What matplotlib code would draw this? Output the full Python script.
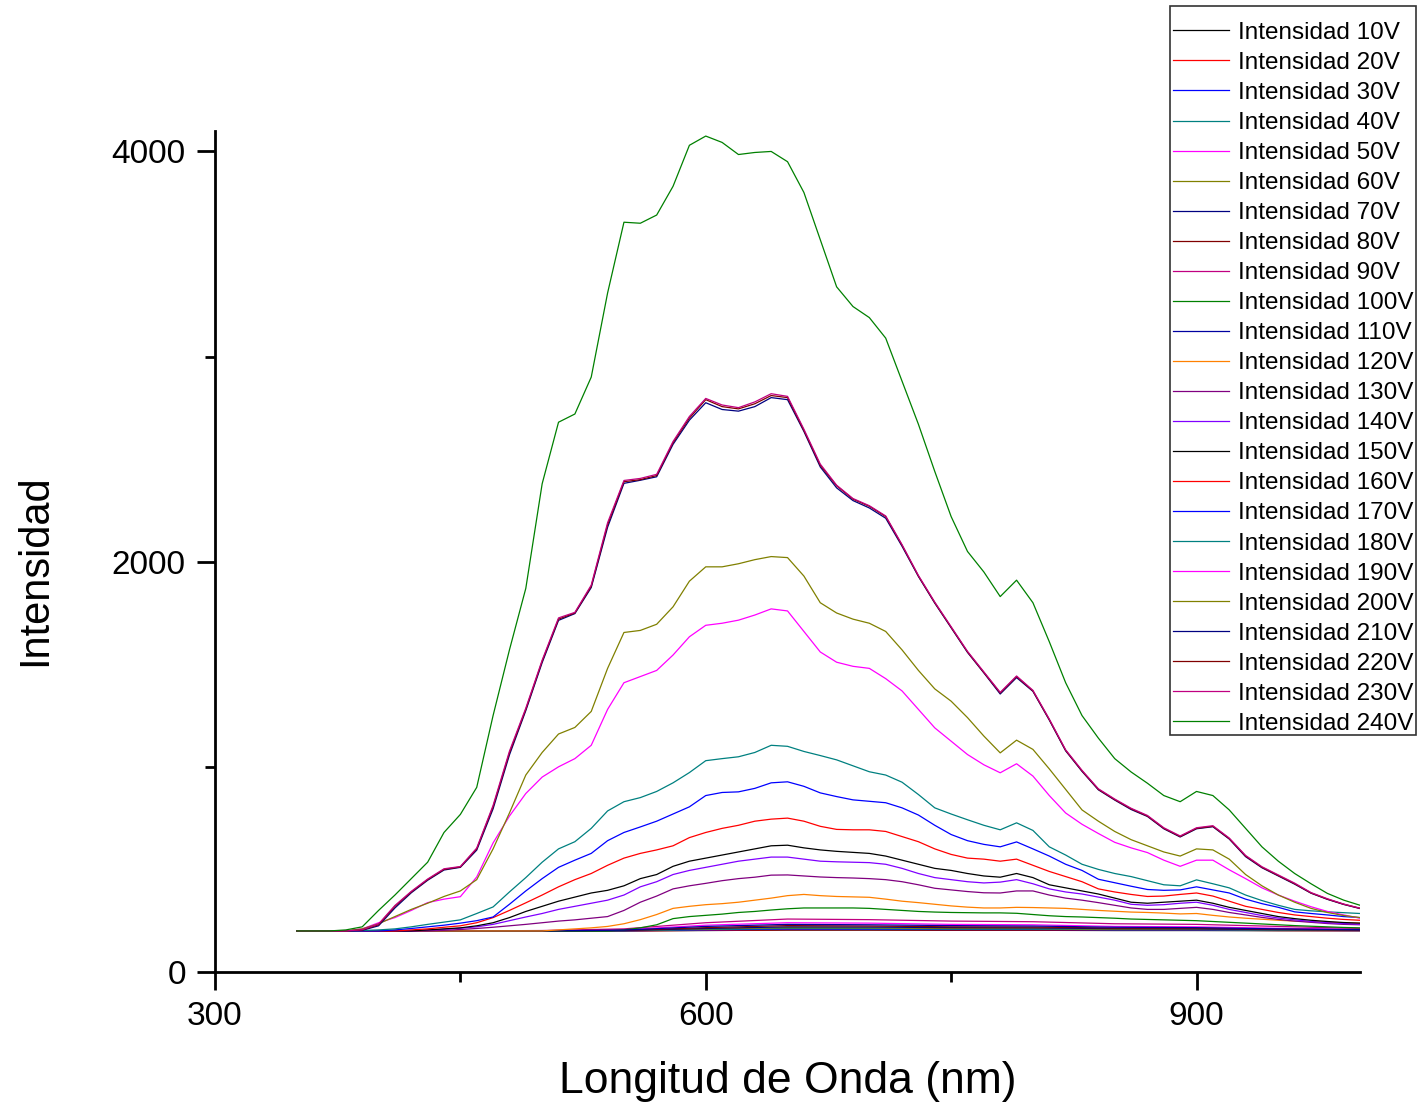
import matplotlib
matplotlib.use("Agg")
import matplotlib.pyplot as plt

plt.rcParams["font.family"] = ["Liberation Sans", "DejaVu Sans"]

# wavelength grids (nm)
wl = list(range(350, 1001, 10))
wl_low = [350, 400, 450, 500, 550, 600, 650, 700, 750, 800, 850, 900, 950, 1000]

# low-voltage spectra, read coarsely (nearly flat near the 200 baseline)
i10 = [200, 200, 200, 200, 200, 202, 204, 204, 203, 203, 202, 202, 201, 201]
i20 = [200, 200, 200, 200, 200, 203, 206, 206, 205, 205, 204, 204, 202, 201]
i30 = [200, 200, 200, 200, 201, 205, 209, 208, 207, 207, 205, 205, 203, 202]
i40 = [200, 200, 200, 200, 201, 207, 212, 211, 209, 209, 206, 206, 204, 202]
i50 = [200, 200, 200, 201, 206, 228, 240, 238, 232, 230, 222, 220, 213, 208]
i60 = [200, 200, 200, 200, 202, 210, 216, 215, 212, 212, 208, 208, 205, 203]
i70 = [200, 200, 200, 200, 202, 212, 220, 219, 216, 215, 211, 210, 206, 204]
i80 = [200, 200, 200, 200, 203, 216, 226, 224, 220, 219, 214, 213, 208, 205]
i90 = [200, 200, 200, 202, 210, 240, 258, 255, 248, 245, 235, 232, 222, 212]
i110 = [200, 200, 200, 200, 204, 222, 232, 230, 226, 224, 218, 216, 210, 206]

# higher-voltage spectra on the 10 nm grid
i100 = [200, 200, 200, 200, 200, 200, 200, 200, 200, 200, 200, 200, 200, 200, 200, 200,
        200, 200, 200, 200, 205, 215, 230, 260, 270, 276, 282, 290, 295, 302, 308,
        312, 312, 312, 312, 310, 305, 300, 295, 292, 290, 289, 288, 288, 286, 280,
        274, 270, 268, 265, 262, 258, 256, 254, 252, 250, 246, 242, 238, 234, 230,
        226, 223, 220, 217, 215]
i120 = [200, 200, 200, 200, 200, 200, 200, 200, 200, 200, 200, 200, 200, 200, 200, 200,
        205, 210, 215, 222, 235, 255, 280, 310, 320, 328, 333, 340, 350, 360, 372,
        378, 372, 368, 366, 364, 355, 345, 338, 330, 322, 316, 312, 312, 315, 314,
        312, 310, 305, 300, 296, 292, 290, 287, 283, 285, 276, 268, 262, 257, 252,
        248, 245, 242, 240, 238]
i130 = [200, 200, 200, 200, 200, 200, 200, 200, 200, 203, 207, 212, 218, 225, 232, 240,
        248, 254, 262, 270, 300, 340, 370, 405, 420, 432, 445, 455, 462, 472, 473,
        468, 463, 460, 458, 455, 450, 440, 425, 408, 400, 392, 386, 385, 395, 395,
        375, 360, 350, 338, 325, 312, 305, 305, 310, 315, 305, 290, 278, 266, 256,
        248, 242, 236, 232, 230]
i140 = [200, 200, 200, 200, 200, 200, 200, 200, 205, 208, 213, 220, 232, 250, 268, 285,
        305, 320, 335, 350, 375, 415, 440, 475, 495, 510, 525, 540, 550, 560, 560,
        550, 540, 537, 535, 533, 525, 505, 480, 460, 450, 440, 434, 438, 450, 430,
        405, 390, 380, 365, 350, 330, 325, 328, 335, 340, 325, 305, 290, 275, 263,
        254, 246, 240, 236, 233]
i150 = [200, 200, 200, 200, 200, 200, 200, 200, 205, 210, 215, 225, 240, 265, 295, 320,
        345, 365, 385, 398, 420, 455, 475, 515, 540, 555, 570, 585, 600, 615, 618,
        605, 595, 588, 583, 578, 565, 545, 525, 505, 495, 480, 468, 462, 480, 460,
        425, 410, 395, 380, 360, 340, 335, 340, 345, 350, 335, 315, 300, 285, 270,
        260, 252, 246, 241, 238]
i160 = [200, 200, 200, 200, 200, 200, 200, 205, 210, 218, 225, 240, 265, 300, 337, 375,
        415, 450, 480, 520, 555, 578, 595, 615, 655, 680, 700, 715, 735, 745, 750,
        735, 710, 695, 693, 693, 685, 660, 635, 600, 573, 555, 550, 540, 550, 520,
        490, 465, 440, 405, 390, 378, 368, 370, 378, 385, 370, 345, 320, 305, 290,
        278, 270, 262, 256, 252]
i170 = [200, 200, 200, 200, 200, 200, 205, 212, 220, 228, 238, 250, 268, 330, 395, 455,
        510, 545, 578, 640, 680, 707, 735, 770, 805, 860, 875, 878, 895, 922, 927,
        905, 873, 855, 839, 832, 825, 800, 765, 715, 670, 640, 622, 610, 634, 600,
        565, 525, 495, 452, 435, 418, 402, 398, 400, 415, 400, 385, 355, 333, 315,
        293, 285, 278, 270, 265]
i180 = [200, 200, 200, 200, 202, 205, 210, 220, 232, 243, 254, 285, 317, 390, 460, 535,
        600, 635, 700, 785, 830, 850, 880, 922, 972, 1030, 1040, 1049, 1070, 1105, 1100,
        1075, 1055, 1034, 1005, 976, 960, 925, 865, 800, 770, 742, 715, 693, 727, 690,
        610, 570, 525, 500, 480, 465, 445, 425, 420, 449, 430, 410, 375, 348, 325,
        305, 298, 293, 289, 285]
i190 = [200, 200, 200, 200, 210, 240, 265, 300, 338, 355, 367, 463, 629, 760, 870, 950,
        1000, 1040, 1105, 1280, 1410, 1440, 1470, 1545, 1634, 1690, 1700, 1715, 1740, 1770, 1760,
        1660, 1560, 1510, 1490, 1480, 1430, 1370, 1280, 1190, 1125, 1060, 1010, 971, 1015, 955,
        860, 775, 720, 675, 632, 605, 582, 545, 515, 545, 545, 498, 455, 410, 375,
        345, 318, 295, 278, 262]
i200 = [200, 200, 200, 200, 210, 235, 270, 305, 335, 368, 395, 450, 600, 775, 960, 1070,
        1160, 1192, 1270, 1480, 1655, 1665, 1695, 1780, 1905, 1975, 1975, 1990, 2010, 2025, 2020,
        1930, 1800, 1750, 1720, 1700, 1660, 1570, 1470, 1380, 1320, 1240, 1150, 1068, 1130, 1085,
        990, 890, 790, 735, 685, 645, 615, 585, 565, 600, 595, 550, 475, 420, 375,
        340, 310, 290, 275, 265]
i210 = [200, 200, 200, 200, 203, 225, 312, 386, 447, 497, 510, 594, 795, 1058, 1274, 1508,
        1714, 1747, 1874, 2168, 2382, 2397, 2414, 2572, 2690, 2775, 2742, 2734, 2756, 2800, 2790,
        2635, 2462, 2360, 2298, 2262, 2212, 2075, 1928, 1798, 1678, 1558, 1458, 1355, 1435, 1368,
        1228, 1078, 978, 888, 838, 792, 758, 698, 658, 698, 708, 648, 562, 508, 468,
        428, 384, 354, 329, 309]
i220 = [200, 200, 200, 200, 205, 230, 320, 390, 450, 500, 512, 600, 805, 1068, 1280, 1515,
        1720, 1750, 1880, 2180, 2390, 2400, 2420, 2580, 2700, 2790, 2756, 2745, 2770, 2810, 2800,
        2640, 2470, 2370, 2305, 2270, 2220, 2080, 1930, 1800, 1680, 1560, 1460, 1360, 1440, 1370,
        1230, 1080, 980, 890, 840, 795, 760, 700, 660, 700, 710, 650, 565, 510, 470,
        430, 385, 355, 330, 310]
i230 = [200, 200, 200, 200, 206, 234, 324, 393, 453, 503, 514, 604, 812, 1076, 1286, 1520,
        1726, 1753, 1886, 2190, 2396, 2406, 2426, 2586, 2708, 2796, 2764, 2751, 2779, 2819, 2806,
        2646, 2476, 2373, 2308, 2273, 2223, 2083, 1933, 1803, 1683, 1563, 1463, 1363, 1443, 1373,
        1233, 1083, 983, 893, 843, 798, 763, 703, 663, 703, 713, 653, 568, 513, 473,
        433, 387, 357, 331, 311]
i240 = [200, 200, 200, 205, 220, 300, 375, 455, 535, 680, 768, 900, 1250, 1570, 1870, 2380,
        2680, 2720, 2900, 3310, 3655, 3650, 3690, 3830, 4030, 4075, 4044, 3985, 3995, 4000, 3950,
        3800, 3570, 3340, 3244, 3190, 3090, 2880, 2670, 2440, 2220, 2050, 1950, 1830, 1910, 1800,
        1610, 1410, 1250, 1140, 1040, 975, 920, 860, 830, 880, 860, 790, 700, 610, 540,
        480, 430, 383, 350, 325]

voltages = [10, 20, 30, 40, 50, 60, 70, 80, 90, 100, 110, 120,
            130, 140, 150, 160, 170, 180, 190, 200, 210, 220, 230, 240]
series = [
    (wl_low, i10), (wl_low, i20), (wl_low, i30), (wl_low, i40), (wl_low, i50),
    (wl_low, i60), (wl_low, i70), (wl_low, i80), (wl_low, i90), (wl, i100),
    (wl_low, i110), (wl, i120), (wl, i130), (wl, i140), (wl, i150), (wl, i160),
    (wl, i170), (wl, i180), (wl, i190), (wl, i200), (wl, i210), (wl, i220),
    (wl, i230), (wl, i240),
]

# Origin-style colour cycle (14 colours, then repeats)
cycle = ["#000000", "#FF0000", "#0000FF", "#008080", "#FF00FF", "#808000", "#000080",
         "#800000", "#C00080", "#008000", "#0000A0", "#FF8000", "#800080", "#8000FF"]

W, H = 1419, 1104
fig = plt.figure(figsize=(W / 100, H / 100), dpi=100, facecolor="white")
ax = fig.add_axes([0.1515, 0.1196, 0.807, 0.7618])

handles = []
for k, (v, (x, y)) in enumerate(zip(voltages, series)):
    line, = ax.plot(x, y, color=cycle[k % len(cycle)], linewidth=0.9,
                    label=f"Intensidad {v}V")
    handles.append(line)

ax.set_xlim(300, 1000)
ax.set_ylim(0, 4100)
ax.set_xticks([300, 600, 900])
ax.set_xticks([450, 750], minor=True)
ax.set_yticks([0, 2000, 4000])
ax.set_yticks([1000, 3000], minor=True)

ax.spines["top"].set_visible(False)
ax.spines["right"].set_visible(False)
for s in ["left", "bottom"]:
    ax.spines[s].set_linewidth(2)

ax.tick_params(which="major", direction="out", length=13, width=2,
               labelsize=24, pad=8)
ax.tick_params(which="minor", direction="out", length=7, width=2)

ax.set_xlabel("Longitud de Onda (nm)", fontsize=32)
ax.set_ylabel("Intensidad", fontsize=30)
ax.xaxis.set_label_coords(0.5, -0.106)
ax.yaxis.set_label_coords(-0.140, 0.478)

# legend entries without frame; the box is drawn separately (tighter at the sides)
box = plt.Rectangle((1170 / W, 1 - 735 / H), 246 / W, 729 / H,
                    transform=fig.transFigure, fill=True, facecolor="white",
                    edgecolor="#333333", linewidth=1.2, zorder=4)
fig.add_artist(box)

leg = fig.legend(
    handles=handles,
    loc="upper right",
    bbox_to_anchor=(1416 / W, 1 - 19 / H),
    bbox_transform=fig.transFigure,
    fontsize=17.5,
    labelspacing=0.33,
    handlelength=2.3,
    handletextpad=0.35,
    borderpad=0.12,
    borderaxespad=0,
    frameon=False,
)
leg.set_zorder(5)

fig.savefig("out.png", dpi=100, facecolor="white")
